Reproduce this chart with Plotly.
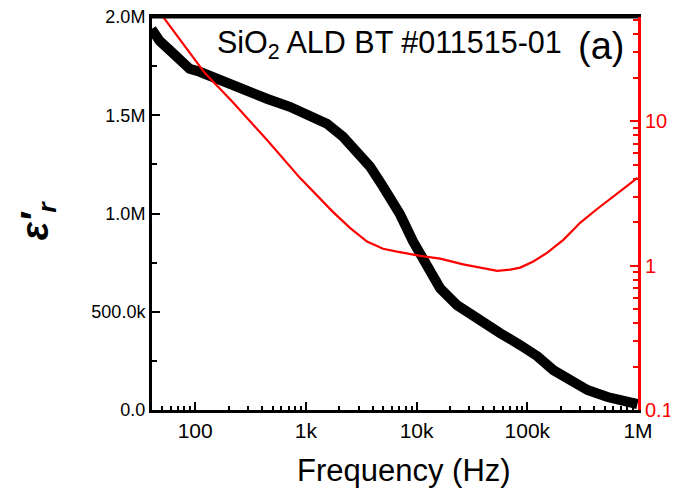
import plotly.graph_objects as go

# Black series: real permittivity (left axis)
freq_black = [40.4, 47.8, 58.7, 72.4, 89.2, 110, 135, 177, 269, 444, 716, 1087, 1549, 2161,
              2895, 3797, 4977, 7096, 9297, 12450, 16320, 23270, 37580, 57020, 86460,
              123100, 171800, 244900, 349200, 529700, 803500, 988000]
eps_black = [1.939e6, 1.878e6, 1.832e6, 1.777e6, 1.736e6, 1.721e6, 1.700e6, 1.670e6,
             1.624e6, 1.584e6, 1.543e6, 1.497e6, 1.457e6, 1.391e6, 1.320e6, 1.239e6,
             1.137e6, 0.995e6, 0.858e6, 0.721e6, 0.619e6, 0.533e6, 0.452e6, 0.391e6,
             0.330e6, 0.274e6, 0.203e6, 0.147e6, 0.102e6, 0.066e6, 0.041e6, 0.030e6]

# Red series: right (log) axis
freq_red = [40.4, 49.8, 121.8, 218, 444, 883, 1754, 2500, 3565, 4977, 6668, 10770, 16320,
            26370, 37580, 53580, 70200, 86460, 113300, 151700, 211700, 301800, 430000,
            600000, 803500, 988000]
val_red = [67, 54.6, 21.7, 13.6, 7.45, 4.06, 2.36, 1.83, 1.47, 1.31, 1.25, 1.17, 1.12,
           1.02, 0.97, 0.92, 0.94, 0.97, 1.07, 1.23, 1.51, 1.99, 2.48, 3.0, 3.58, 4.06]

x_tickvals = [100, 1e3, 1e4, 1e5, 1e6]
x_ticktext = ["100", "1k", "10k", "100k", "1M"]
y_tickvals = [0, 5e5, 1e6, 1.5e6, 2e6]
y_ticktext = ["0.0", "500.0k", "1.0M", "1.5M", "2.0M"]
y2_tickvals = [0.1, 1, 10]
y2_ticktext = ["0.1", "1", "10"]

FONT = "Liberation Sans, Arial, sans-serif"
RED = "#ff0000"

x_minor = [m * 10 ** e for e in range(1, 7) for m in range(2, 10)]
y2_minor = [m * 10 ** e for e in range(-1, 2) for m in range(2, 10)]

fig = go.Figure()
fig.add_trace(go.Scatter(x=freq_black, y=eps_black, mode="lines",
                         line=dict(color="black", width=10), showlegend=False,
                         yaxis="y"))
fig.add_trace(go.Scatter(x=freq_red, y=val_red, mode="lines",
                         line=dict(color=RED, width=2.2), showlegend=False,
                         yaxis="y2"))

fig.update_layout(
    width=670, height=496,
    margin=dict(l=144, r=40, t=9, b=94, autoexpand=False),
    paper_bgcolor="white", plot_bgcolor="white",
    font=dict(family=FONT, color="black"),
    xaxis=dict(type="log", range=[1.61, 6.0], tickvals=x_tickvals, ticktext=x_ticktext,
               automargin=False, ticklabeloverflow="allow",
               ticks="inside", ticklen=8, tickwidth=2, tickcolor="black",
               showline=True, linecolor="black", linewidth=3, mirror=True,
               showgrid=False, zeroline=False, tickfont=dict(size=21),
               minor=dict(tickvals=x_minor, ticks="inside", ticklen=4, tickwidth=2,
                          tickcolor="black", showgrid=False)),
    yaxis=dict(range=[0, 2.0e6], tickvals=y_tickvals, ticktext=y_ticktext,
               automargin=False, ticklabeloverflow="allow",
               ticks="inside", ticklen=8, tickwidth=2, tickcolor="black",
               showline=True, linecolor="black", linewidth=3,
               showgrid=False, zeroline=False, tickfont=dict(size=18),
               minor=dict(dtick=250000, ticks="inside", ticklen=5, tickwidth=2,
                          tickcolor="black", showgrid=False)),
    yaxis2=dict(type="log", range=[-1, 1.723], overlaying="y", side="right",
                automargin=False, ticklabeloverflow="allow",
                tickvals=y2_tickvals, ticktext=y2_ticktext,
                ticks="inside", ticklen=8, tickwidth=2, tickcolor=RED,
                showline=True, linecolor=RED, linewidth=3,
                showgrid=False, zeroline=False, tickfont=dict(size=20, color=RED),
                minor=dict(tickvals=y2_minor, ticks="inside", ticklen=5, tickwidth=2,
                           tickcolor=RED, showgrid=False)),
    shapes=[
        dict(type="line", xref="paper", yref="paper", x0=0, x1=1, y0=1, y1=1,
             line=dict(color="black", width=3), layer="above"),
    ],
    annotations=[
        dict(text="SiO<sub>2</sub> ALD BT #011515-01", xref="paper", yref="paper",
             x=0.4877, y=0.929, xanchor="center", yanchor="middle", showarrow=False,
             font=dict(size=30.5, family=FONT, color="black")),
        dict(text="(a)", xref="paper", yref="paper",
             x=0.924, y=0.925, xanchor="center", yanchor="middle", showarrow=False,
             font=dict(size=38, family=FONT, color="black")),
        dict(text="Frequency (Hz)", xref="paper", yref="paper",
             x=0.5185, y=-0.153, xanchor="center", yanchor="middle", showarrow=False,
             font=dict(size=31, family=FONT, color="black")),
        dict(text="<b><i>ε′</i></b><sub><b><i>r</i></b></sub>", xref="paper", yref="paper",
             x=-0.2346, y=0.483, xanchor="center", yanchor="middle", showarrow=False,
             textangle=-90, font=dict(size=38, family=FONT, color="black")),
    ],
)

fig.write_html("out.html")
